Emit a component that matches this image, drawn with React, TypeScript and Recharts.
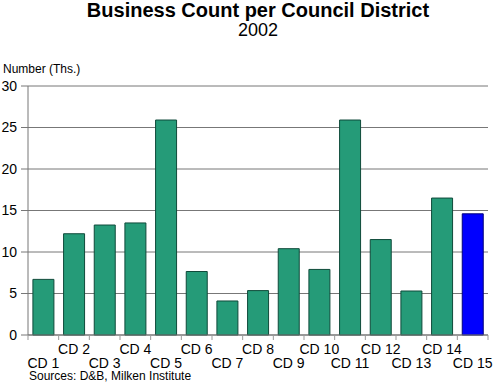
import React from "react";
import { BarChart, Bar, XAxis, YAxis, CartesianGrid, Cell } from "recharts";

const categories = ["CD 1","CD 2","CD 3","CD 4","CD 5","CD 6","CD 7","CD 8","CD 9","CD 10","CD 11","CD 12","CD 13","CD 14","CD 15"];
const values = [6.7, 12.2, 13.25, 13.5, 25.9, 7.65, 4.1, 5.35, 10.4, 7.9, 25.9, 11.5, 5.3, 16.5, 14.6];
const highlighted = ["CD 15"];
const yTicks = [0, 5, 10, 15, 20, 25, 30];

const data = categories.map((c, i) => ({ name: c, value: values[i] }));

const W = 495;
const H = 389;
const MARGIN = { top: 86, right: 7, left: 0, bottom: 0 };
const YAXIS_W = 28;
const PLOT_W = W - MARGIN.left - MARGIN.right - YAXIS_W;
const BAND = PLOT_W / categories.length;

const XTick = (props: any) => {
  const { x, y, payload, index } = props;
  const half = BAND / 2;
  const upper = index % 2 === 1;
  return (
    <g>
      <line x1={x - half} y1={y} x2={x - half} y2={y + 5} stroke="#999" />
      {index === categories.length - 1 && (
        <line x1={x + half} y1={y} x2={x + half} y2={y + 5} stroke="#999" />
      )}
      <text x={x} y={upper ? y + 19 : y + 32.5} textAnchor="middle" fontSize={14} fill="#000">
        {payload.value}
      </text>
    </g>
  );
};

export default function App() {
  return (
    <div style={{ position: "absolute", left: 0, top: 0, width: W, height: H, fontFamily: "'Liberation Sans', Arial, sans-serif", background: "#fff" }}>
      <div style={{ position: "absolute", left: 28, width: 460, top: 0, textAlign: "center", fontWeight: "bold", fontSize: 20, lineHeight: "20px" }}>
        Business Count per Council District
      </div>
      <div style={{ position: "absolute", left: 28, width: 460, top: 20, textAlign: "center", fontSize: 18, lineHeight: "20px" }}>
        2002
      </div>
      <div style={{ position: "absolute", left: 3, top: 62, fontSize: 12, lineHeight: "14px" }}>
        Number (Ths.)
      </div>
      <div style={{ position: "absolute", left: 29, top: 370, fontSize: 12, lineHeight: "12px" }}>
        Sources: D&amp;B, Milken Institute
      </div>
      <BarChart width={W} height={H} data={data} margin={MARGIN} barCategoryGap="16%">
        <CartesianGrid vertical={false} stroke="#777" />
        <XAxis
          dataKey="name"
          interval={0}
          height={54}
          tickSize={0}
          tickMargin={0}
          tickLine={false}
          axisLine={{ stroke: "#777" }}
          tick={<XTick />}
        />
        <YAxis
          width={YAXIS_W}
          domain={[0, 30]}
          ticks={yTicks}
          interval={0}
          tickSize={7}
          tickMargin={4}
          axisLine={{ stroke: "#777" }}
          tickLine={{ stroke: "#777" }}
          tick={{ fill: "#000", fontSize: 14 }}
        />
        <YAxis
          yAxisId="r"
          orientation="right"
          width={0}
          domain={[0, 30]}
          tick={false}
          tickLine={false}
          axisLine={{ stroke: "#777" }}
        />
        <Bar dataKey="value" isAnimationActive={false} stroke="#0f4a3a" strokeWidth={1}>
          {data.map((d) => (
            <Cell key={d.name} fill={highlighted.includes(d.name) ? "#0000ff" : "#259b78"} stroke={highlighted.includes(d.name) ? "#00007a" : "#0f4a3a"} />
          ))}
        </Bar>
      </BarChart>
    </div>
  );
}
